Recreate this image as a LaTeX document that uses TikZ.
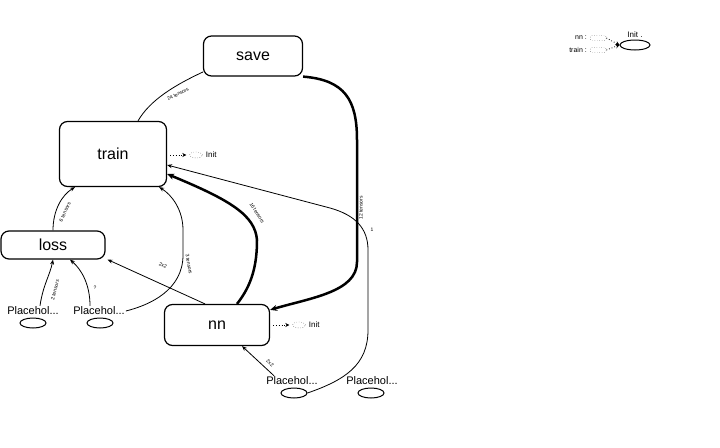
\documentclass[tikz,border=0pt]{standalone}
\usepackage{fontspec}
\setmainfont{Liberation Sans}
\usetikzlibrary{arrows.meta, positioning, shapes.geometric}

\begin{document}
\begin{tikzpicture}[
    x=1pt, y=1pt,
    op/.style={draw, line width=1.2pt, rounded corners=8pt, fill=white, font=\fontsize{16}{18}\selectfont},
    holder/.style={font=\fontsize{11}{12}\selectfont, inner sep=1pt},
    holderdot/.style={draw, ellipse, line width=1pt, minimum width=26pt, minimum height=10pt, inner sep=0pt},
    ghost/.style={draw, ellipse, dotted, minimum width=13pt, minimum height=6pt, inner sep=0pt},
    edge/.style={line width=0.8pt, -{Stealth[length=5pt, width=4pt]}},
    heavy/.style={line width=2.5pt, -{Stealth[length=7pt, width=6pt]}},
    ctrl/.style={dotted, line width=0.8pt, -{Stealth[length=4pt, width=4pt]}},
    tag/.style={font=\fontsize{5}{6}\selectfont, inner sep=0.5pt},
    small/.style={font=\fontsize{8}{9}\selectfont, inner sep=1pt}
]

    \useasboundingbox (0,0) rectangle (720,-447);

    % Ops
    \node[op, minimum width=99pt, minimum height=40pt] (save) at (253,-56) {save};
    \node[op, minimum width=107pt, minimum height=65pt] (train) at (113,-154) {train};
    \node[op, minimum width=104pt, minimum height=28pt] (loss) at (53,-245) {loss};
    \node[op, minimum width=105pt, minimum height=41pt] (nn) at (217,-325) {nn};

    % Placeholders
    \node[holder] (ph1) at (33,-311) {Placehol...};
    \node[holderdot] (ph1dot) at (33,-323) {};
    \node[holder] (ph2) at (99,-311) {Placehol...};
    \node[holderdot] (ph2dot) at (100,-323) {};
    \node[holder] (ph3) at (292,-381) {Placehol...};
    \node[holderdot] (ph3dot) at (294,-393) {};
    \node[holder] (ph4) at (372,-381) {Placehol...};
    \node[holderdot] (ph4dot) at (371,-393) {};

    % Init stubs
    \node[ghost] (traininit) at (196,-155) {};
    \node[small, right=2pt of traininit] (traininitlabel) {Init};
    \draw[ctrl, shorten <=3pt, shorten >=3pt] (train.east |- traininit) -- (traininit.west);
    \node[ghost] (nninit) at (299,-325) {};
    \node[small, right=2pt of nninit] (nninitlabel) {Init};
    \draw[ctrl, shorten <=3pt, shorten >=3pt] (nn.east |- nninit) -- (nninit.west);

    % Data flow
    \draw[line width=0.8pt] ([yshift=-16pt]save.west) .. controls (175,-85) and (150,-100) .. ([xshift=25pt]train.north);
    \node[tag, rotate=27] (savetraintag) at (178,-94) {24 tensors};

    \draw[heavy] (save.south east) .. controls (345,-80) and (357,-100) .. (357,-140) -- (357,-262)
        .. controls (357,-292) and (310,-298) .. ([yshift=-6pt]nn.north east);
    \node[tag, rotate=90] (savenntag) at (361,-208) {12 tensors};

    \draw[heavy] ([xshift=20pt]nn.north) .. controls (252,-285) and (257,-265) .. (257,-240)
        .. controls (255,-215) and (230,-200) .. ([yshift=-20pt]train.east);
    \node[tag, rotate=-58] (nntraintag) at (257,-213) {16 tensors};

    \draw[edge] (ph2.east) .. controls (150,-305) and (183,-290) .. (183,-255) -- (183,-230)
        .. controls (183,-210) and (172,-195) .. ([xshift=-8pt]train.south east);
    \node[tag, rotate=-80] (ph2traintag) at (189,-264) {3 tensors};

    \draw[edge] ([xshift=-12pt]nn.north) -- ([xshift=2pt]loss.south east);
    \node[tag, rotate=-23] (nnlosstag) at (163,-265) {2x2};

    \draw[edge] ([xshift=7pt]ph1.north) .. controls (43,-285) and (50,-275) .. (loss.south);
    \node[tag, rotate=75] (ph1losstag) at (55,-290) {2 tensors};

    \draw[edge] ([xshift=-9pt]ph2.north) .. controls (90,-285) and (82,-270) .. ([xshift=17pt]loss.south);
    \node[tag] (ph2losstag) at (95,-288) {?};

    \draw[edge] (loss.north) .. controls (53,-210) and (62,-195) .. ([xshift=-38pt]train.south);
    \node[tag, rotate=65] (losstraintag) at (65,-212) {6 tensors};

    \draw[edge] ([xshift=-18pt]ph3.north) -- ([xshift=25pt]nn.south);
    \node[tag, rotate=-42] (ph3nntag) at (270,-363) {2x2};

    \draw[edge] (ph3dot.east) .. controls (345,-380) and (368,-365) .. (368,-330) -- (368,-250)
        .. controls (368,-228) and (355,-215) .. (330,-208) -- ([yshift=-11pt]train.east);
    \node[tag] (ph3traintag) at (372,-230) {1};

    % Legend
    \node[holderdot, minimum width=30pt] (key) at (635,-45) {};
    \node[small, above=1pt of key] (keylabel) {Init .};
    \node[small, anchor=east, font=\fontsize{7}{8}\selectfont] (keynn) at (588,-38) {nn :};
    \node[small, anchor=east, font=\fontsize{7}{8}\selectfont] (keytrain) at (588,-50) {train :};
    \node[draw, dotted, rounded corners=2pt, minimum width=16pt, minimum height=5pt, inner sep=0pt, right=2pt of keynn] (boxnn) {};
    \node[draw, dotted, rounded corners=2pt, minimum width=16pt, minimum height=5pt, inner sep=0pt, right=2pt of keytrain] (boxtrain) {};
    \draw[ctrl] (boxnn.east) -- (key.west);
    \draw[ctrl] (boxtrain.east) -- (key.west);

\end{tikzpicture}
\end{document}
